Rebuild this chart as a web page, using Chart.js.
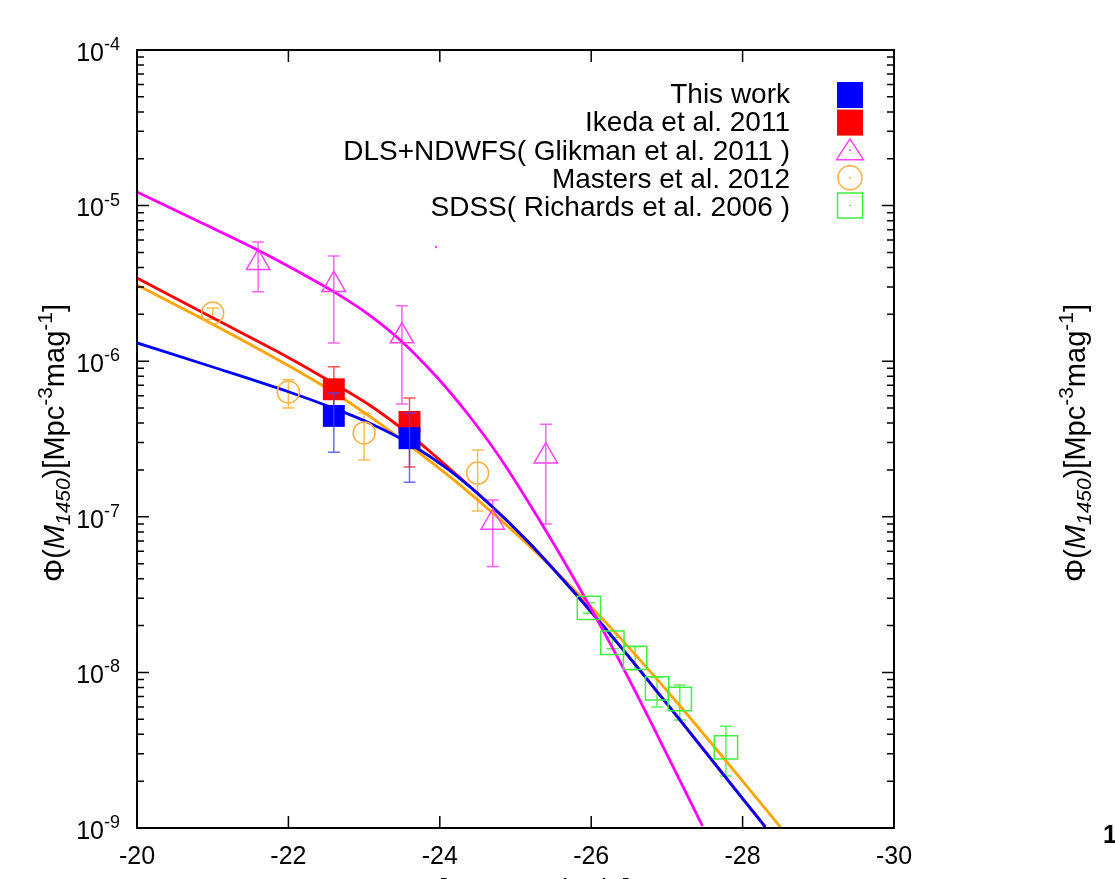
<!DOCTYPE html>
<html><head><meta charset="utf-8">
<script src="https://cdn.jsdelivr.net/npm/chart.js@4.4.1/dist/chart.umd.min.js"></script>
<style>html,body{margin:0;padding:0;background:#fff;overflow:hidden}#wrap{width:1115px;height:879px;position:relative}canvas{display:block}</style>
</head><body><div id="wrap"><canvas id="c" width="1115" height="879"></canvas></div>
<script>
// ---------- axis ticks ----------
const xTickValues = [-20, -22, -24, -26, -28, -30];
const xTickLabels = ['-20', '-22', '-24', '-26', '-28', '-30'];
const yDecades = [1e-9, 1e-8, 1e-7, 1e-6, 1e-5, 1e-4];
const yDecadeExp = ['-9', '-8', '-7', '-6', '-5', '-4'];
const yMinorFactors = [2, 3, 4, 5, 6, 7, 8, 9];

// ---------- series labels ----------
const seriesLabels = ['This work', 'Ikeda et al. 2011', 'DLS+NDWFS( Glikman et al. 2011 )', 'Masters et al. 2012', 'SDSS( Richards et al. 2006 )'];

// ---------- data points (M1450, Phi, upper, lower) ----------
const thisWorkM = [-22.6, -23.6];
const thisWorkPhi = [4.45e-7, 3.2e-7];
const thisWorkHi = [6.25e-7, 4.65e-7];
const thisWorkLo = [2.6e-7, 1.67e-7];

const ikedaM = [-22.6, -23.6];
const ikedaPhi = [6.6e-7, 4.07e-7];
const ikedaHi = [9.2e-7, 5.8e-7];
const ikedaLo = [4.5e-7, 2.09e-7];

const glikmanM = [-21.6, -22.6, -23.5, -24.7, -25.4];
const glikmanPhi = [4.3e-6, 3.1e-6, 1.45e-6, 9.2e-8, 2.45e-7];
const glikmanHi = [5.83e-6, 4.74e-6, 2.27e-6, 1.28e-7, 3.94e-7];
const glikmanLo = [2.79e-6, 1.31e-6, 5.3e-7, 4.8e-8, 9.0e-8];
const glikmanStrayM = [-23.95];
const glikmanStrayPhi = [5.42e-6];

const mastersM = [-21.0, -22.0, -23.0, -24.5];
const mastersPhi = [2.04e-6, 6.34e-7, 3.46e-7, 1.91e-7];
const mastersHi = [2.2e-6, 7.6e-7, 4.65e-7, 2.69e-7];
const mastersLo = [1.86e-6, 5.0e-7, 2.32e-7, 1.09e-7];

const sdssM = [-25.97, -26.28, -26.58, -26.87, -27.17, -27.78];
const sdssPhi = [2.6e-8, 1.55e-8, 1.24e-8, 7.9e-9, 6.75e-9, 3.3e-9];
const sdssHi = [2.8e-8, 1.68e-8, 1.46e-8, 9.3e-9, 8.3e-9, 4.5e-9];
const sdssLo = [2.4e-8, 1.42e-8, 1.04e-8, 6.0e-9, 4.94e-9, 2.16e-9];

// ---------- fitted luminosity function curves ----------
const glikmanFitM = [-20, -20.83, -21.62, -22.14, -22.63, -23.07, -23.49, -23.96, -24.38, -24.78, -25.30, -25.83, -26.36, -26.88, -27.47];
const glikmanFitPhi = [1.223e-5, 7.84e-6, 5.11e-6, 3.74e-6, 2.74e-6, 1.98e-6, 1.35e-6, 7.91e-7, 4.51e-7, 2.46e-7, 9.82e-8, 3.59e-8, 1.22e-8, 3.9e-9, 1.03e-9];

const thisWorkFitM = [-20, -21.0, -22.01, -22.59, -23.07, -23.61, -24.12, -24.64, -25.17, -25.83, -26.36, -27.14, -28.30];
const thisWorkFitPhi = [1.31e-6, 9.18e-7, 6.34e-7, 5.0e-7, 4.01e-7, 2.94e-7, 2.0e-7, 1.227e-7, 6.89e-8, 3.05e-8, 1.52e-8, 5.17e-9, 1.015e-9];

const ikedaFitM = [-20, -21.0, -22.01, -22.59, -23.07, -23.61, -24.12, -24.64, -25.17, -25.83, -26.36, -27.14, -28.30];
const ikedaFitPhi = [3.42e-6, 1.9e-6, 1.05e-6, 7.24e-7, 5.23e-7, 3.35e-7, 2.06e-7, 1.227e-7, 6.89e-8, 3.05e-8, 1.52e-8, 5.17e-9, 1.015e-9];

const mastersFitM = [-20, -21.0, -22.01, -22.59, -23.07, -23.61, -24.12, -24.64, -25.17, -25.83, -26.36, -27.14, -28.5];
const mastersFitPhi = [3.09e-6, 1.73e-6, 9.31e-7, 6.34e-7, 4.44e-7, 2.85e-7, 1.83e-7, 1.12e-7, 6.59e-8, 3.19e-8, 1.71e-8, 6.36e-9, 1.015e-9];

// ---------- rendering ----------
const FONT = '"Liberation Sans", Arial, Helvetica, sans-serif';
const pts = (xs, ys) => xs.map((x, i) => ({ x: x, y: ys[i] }));

const COL = {
  blue: '#0000ff', red: '#ff0000', magenta: '#ff00ff', orange: '#ffa500', green: '#00ff00'
};

const errSeries = [
  { M: ikedaM, hi: ikedaHi, lo: ikedaLo, color: 'rgba(255,40,40,0.8)', late: false },
  { M: glikmanM, hi: glikmanHi, lo: glikmanLo, color: 'rgba(255,60,255,0.8)', late: false },
  { M: mastersM, hi: mastersHi, lo: mastersLo, color: 'rgba(255,170,40,0.8)', late: false },
  { M: sdssM, hi: sdssHi, lo: sdssLo, color: 'rgba(40,235,40,0.75)', late: false },
  { M: thisWorkM, hi: thisWorkHi, lo: thisWorkLo, color: 'rgba(70,70,255,0.8)', late: true }
];

function drawErrors(chart, late) {
  const ctx = chart.ctx, xs = chart.scales.x, ys = chart.scales.y;
  ctx.save();
  ctx.lineWidth = 1.5;
  errSeries.filter(s => s.late === late).forEach(s => {
    ctx.strokeStyle = s.color;
    s.M.forEach((m, i) => {
      const px = xs.getPixelForValue(m);
      const yh = ys.getPixelForValue(s.hi[i]);
      const yl = ys.getPixelForValue(s.lo[i]);
      ctx.beginPath();
      ctx.moveTo(px, yh); ctx.lineTo(px, yl);
      ctx.moveTo(px - 6, yh); ctx.lineTo(px + 6, yh);
      ctx.moveTo(px - 6, yl); ctx.lineTo(px + 6, yl);
      ctx.stroke();
    });
  });
  ctx.restore();
}

function fontFor(p, size) {
  const s = (p.sub || p.sup) ? Math.round(size * 0.72) : size;
  return (p.it ? 'italic ' : '') + s + 'px ' + FONT;
}
function drawRich(ctx, pieces, cx, cy, rot, size) {
  ctx.save();
  ctx.translate(cx, cy);
  ctx.rotate(rot);
  ctx.fillStyle = '#000';
  ctx.textAlign = 'left';
  ctx.textBaseline = 'alphabetic';
  let total = 0;
  pieces.forEach(p => { ctx.font = fontFor(p, size); p.w = ctx.measureText(p.t).width; total += p.w; });
  let x = -total / 2;
  pieces.forEach(p => {
    ctx.font = fontFor(p, size);
    const dy = p.sub ? size * 0.22 : (p.sup ? -size * 0.42 : 0);
    ctx.fillText(p.t, x, dy);
    x += p.w;
  });
  ctx.restore();
}

const yTitlePieces = () => [
  { t: 'Φ(' }, { t: 'M', it: true }, { t: '1450', it: true, sub: true }, { t: ')[Mpc' },
  { t: '-3', sup: true }, { t: 'mag' }, { t: '-1', sup: true }, { t: ']' }
];
const xTitlePieces = () => [
  { t: 'M', it: true }, { t: '1450', it: true, sub: true }, { t: ' [AB magnitude]' }
];

function drawMarker(ctx, kind, x, y, s) {
  ctx.save();
  if (kind === 'fillsq') {
    ctx.fillStyle = s.color;
    ctx.fillRect(x - s.size / 2, y - s.size / 2, s.size, s.size);
  } else {
    ctx.strokeStyle = s.color; ctx.lineWidth = 1.5;
    ctx.beginPath();
    if (kind === 'tri') {
      ctx.moveTo(x, y - s.size * 0.42);
      ctx.lineTo(x + s.size / 2, y + s.size * 0.35);
      ctx.lineTo(x - s.size / 2, y + s.size * 0.35);
      ctx.closePath();
    } else if (kind === 'circ') {
      ctx.arc(x, y, s.size / 2, 0, Math.PI * 2);
    } else {
      ctx.rect(x - s.size / 2, y - s.size / 2, s.size, s.size);
    }
    ctx.stroke();
    ctx.fillStyle = s.color;
    ctx.fillRect(x - 0.8, y - 0.8, 1.6, 1.6);
  }
  ctx.restore();
}

const legendKinds = [
  { kind: 'fillsq', color: COL.blue, size: 26 },
  { kind: 'fillsq', color: COL.red, size: 26 },
  { kind: 'tri', color: '#ff40ff', size: 27 },
  { kind: 'circ', color: '#ffb040', size: 24 },
  { kind: 'sq', color: '#40f040', size: 25 }
];

const decor = {
  id: 'decor',
  beforeDatasetsDraw(chart) { drawErrors(chart, false); },
  afterDatasetsDraw(chart) {
    drawErrors(chart, true);
    const ctx = chart.ctx, a = chart.chartArea, xs = chart.scales.x, ys = chart.scales.y;
    ctx.save();
    // frame
    ctx.strokeStyle = '#000'; ctx.lineWidth = 2;
    ctx.strokeRect(a.left, a.top, a.right - a.left, a.bottom - a.top);
    ctx.lineWidth = 1.5;
    ctx.beginPath();
    xTickValues.forEach(v => {
      const px = xs.getPixelForValue(v);
      ctx.moveTo(px, a.bottom); ctx.lineTo(px, a.bottom - 12);
      ctx.moveTo(px, a.top); ctx.lineTo(px, a.top + 12);
    });
    yDecades.forEach(d => {
      const py = ys.getPixelForValue(d);
      ctx.moveTo(a.left, py); ctx.lineTo(a.left + 12, py);
      ctx.moveTo(a.right, py); ctx.lineTo(a.right - 12, py);
      if (d < 1e-4) {
        yMinorFactors.forEach(f => {
          const pm = ys.getPixelForValue(d * f);
          ctx.moveTo(a.left, pm); ctx.lineTo(a.left + 7, pm);
          ctx.moveTo(a.right, pm); ctx.lineTo(a.right - 7, pm);
        });
      }
    });
    ctx.stroke();
    // x tick labels
    ctx.fillStyle = '#000';
    ctx.textAlign = 'center'; ctx.textBaseline = 'middle';
    ctx.font = '25px ' + FONT;
    xTickValues.forEach((v, i) => {
      ctx.fillText(xTickLabels[i], xs.getPixelForValue(v), a.bottom + 29);
    });
    // y tick labels 10^n
    yDecades.forEach((d, i) => {
      const py = ys.getPixelForValue(d);
      ctx.font = '25px ' + FONT;
      ctx.textAlign = 'right'; ctx.textBaseline = 'middle';
      ctx.fillText('10', 104, py + 4);
      ctx.font = '18px ' + FONT;
      ctx.textAlign = 'left';
      ctx.fillText(yDecadeExp[i], 104, py - 5);
    });
    // legend (gnuplot style: text right, sample at right)
    seriesLabels.forEach((lab, i) => {
      ctx.font = '28px ' + FONT;
      ctx.textAlign = 'right'; ctx.textBaseline = 'middle';
      ctx.fillStyle = '#000';
      ctx.fillText(lab, 790, 95 + i * 28.4);
      drawMarker(ctx, legendKinds[i].kind, 850, 95 + i * 27.6, legendKinds[i]);
    });
    ctx.restore();
    // axis titles
    drawRich(ctx, yTitlePieces(), 64, 443, -Math.PI / 2, 29);
    drawRich(ctx, yTitlePieces(), 1085, 443, -Math.PI / 2, 29);
    drawRich(ctx, xTitlePieces(), 497, 898, 0, 28);
    // fragment of neighbouring panel's tick label
    ctx.save();
    ctx.font = 'bold 25px ' + FONT; ctx.fillStyle = '#000';
    ctx.textAlign = 'left'; ctx.textBaseline = 'middle';
    ctx.fillText('10', 1103, ys.getPixelForValue(1e-9) + 8);
    ctx.restore();
  }
};

const markerCommon = { showLine: false, borderWidth: 1.5, pointHoverRadius: 0 };
const lineCommon = { showLine: true, pointRadius: 0, pointHoverRadius: 0, borderWidth: 2.8, cubicInterpolationMode: 'monotone', fill: false };

new Chart(document.getElementById('c'), {
  type: 'scatter',
  data: {
    datasets: [
      Object.assign({}, markerCommon, { label: seriesLabels[0], data: pts(thisWorkM, thisWorkPhi), pointStyle: 'rect', pointRadius: 15.5, backgroundColor: COL.blue, borderColor: COL.blue, borderWidth: 0, order: 1 }),
      Object.assign({}, markerCommon, { label: seriesLabels[1], data: pts(ikedaM, ikedaPhi), pointStyle: 'rect', pointRadius: 15.5, backgroundColor: COL.red, borderColor: COL.red, borderWidth: 0, order: 2 }),
      Object.assign({}, markerCommon, { label: seriesLabels[2], data: pts(glikmanM, glikmanPhi), pointStyle: 'triangle', pointRadius: 13.5, backgroundColor: 'rgba(0,0,0,0)', borderColor: '#ff40ff', order: 3 }),
      Object.assign({}, markerCommon, { label: 'stray', data: pts(glikmanStrayM, glikmanStrayPhi), pointStyle: 'circle', pointRadius: 1.2, backgroundColor: '#ff40ff', borderColor: '#ff40ff', borderWidth: 0, order: 3 }),
      Object.assign({}, markerCommon, { label: seriesLabels[3], data: pts(mastersM, mastersPhi), pointStyle: 'circle', pointRadius: 11, backgroundColor: 'rgba(0,0,0,0)', borderColor: '#ffb040', order: 4 }),
      Object.assign({}, markerCommon, { label: seriesLabels[4], data: pts(sdssM, sdssPhi), pointStyle: 'rect', pointRadius: 16.5, backgroundColor: 'rgba(0,0,0,0)', borderColor: '#40f040', order: 5 }),
      Object.assign({}, lineCommon, { label: 'Glikman fit', data: pts(glikmanFitM, glikmanFitPhi), borderColor: COL.magenta, order: 6 }),
      Object.assign({}, lineCommon, { label: 'This work fit', data: pts(thisWorkFitM, thisWorkFitPhi), borderColor: COL.blue, order: 7 }),
      Object.assign({}, lineCommon, { label: 'Ikeda fit', data: pts(ikedaFitM, ikedaFitPhi), borderColor: COL.red, order: 8 }),
      Object.assign({}, lineCommon, { label: 'Masters fit', data: pts(mastersFitM, mastersFitPhi), borderColor: COL.orange, order: 9 })
    ]
  },
  options: {
    responsive: false,
    devicePixelRatio: 1,
    animation: false,
    events: [],
    layout: { padding: { left: 137, right: 221, top: 50, bottom: 51 } },
    plugins: { legend: { display: false }, tooltip: { enabled: false }, title: { display: false } },
    scales: {
      x: { type: 'linear', min: -30, max: -20, reverse: true, display: false },
      y: { type: 'logarithmic', min: 1e-9, max: 1e-4, display: false }
    }
  },
  plugins: [decor]
});
</script></body></html>
